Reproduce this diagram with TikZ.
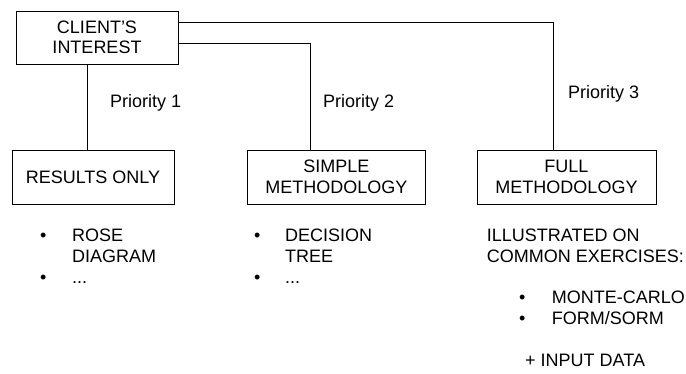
\documentclass[tikz,border=0pt]{standalone}
\usepackage{fontspec}
\setmainfont{Liberation Sans}
\begin{document}
\begin{tikzpicture}[x=1pt,y=-1pt,
  box/.style={draw, line width=0.8pt, inner sep=0pt, align=center, font=\fontsize{18}{20.5}\selectfont},
  lbl/.style={anchor=base west, inner sep=0pt, font=\fontsize{18}{21}\selectfont},
  conn/.style={line width=0.8pt}]
\useasboundingbox (0,0) rectangle (686,374);
\node[box, minimum width=162pt, minimum height=53pt] (client) at (97,37.5) {CLIENT'S\\INTEREST};
\node[box, minimum width=162pt, minimum height=54pt] (results) at (93,177) {RESULTS ONLY};
\node[box, minimum width=178.7pt, minimum height=54pt] (simple) at (336.3,177) {SIMPLE\\METHODOLOGY};
\node[box, minimum width=179pt, minimum height=54pt] (full) at (566.5,177) {FULL\\METHODOLOGY};
\draw[conn] ([xshift=-10pt]client.south) -- ([xshift=-10pt]client.south |- results.north);
\draw[conn] ([yshift=-5.8pt]client.east) -| ([xshift=-25.6pt]simple.north);
\draw[conn] ([yshift=14.8pt]client.east) -| ([xshift=-13.5pt]full.north);
\node[lbl] (p1) at (110,107.5) {Priority 1};
\node[lbl] (p2) at (323,107.5) {Priority 2};
\node[lbl] (p3) at (568,98.5) {Priority 3};
% lists
\node[lbl] (b1) at (40,241.7) {\textbullet};
\node[lbl] (t1) at (72,241.7) {ROSE};
\node[lbl] (t1b) at (72,262.7) {DIAGRAM};
\node[lbl] (b1b) at (40,283.5) {\textbullet};
\node[lbl] (t1c) at (72,283.5) {...};
\node[lbl] (b2) at (254,241.7) {\textbullet};
\node[lbl] (t2) at (285,241.7) {DECISION};
\node[lbl] (t2b) at (285,262.7) {TREE};
\node[lbl] (b2b) at (254,283.5) {\textbullet};
\node[lbl] (t2c) at (285,283.5) {...};
\node[lbl] (t3) at (486.7,241.7) {ILLUSTRATED ON};
\node[lbl] (t3b) at (486.7,262.7) {COMMON EXERCISES:};
\node[lbl] (b3) at (519,303.3) {\textbullet};
\node[lbl] (t3c) at (551.7,303.3) {MONTE-CARLO};
\node[lbl] (b3b) at (519,325) {\textbullet};
\node[lbl] (t3d) at (551.7,325) {FORM/SORM};
\node[lbl] (t3e) at (525,366.7) {+ INPUT DATA};
\end{tikzpicture}
\end{document}
